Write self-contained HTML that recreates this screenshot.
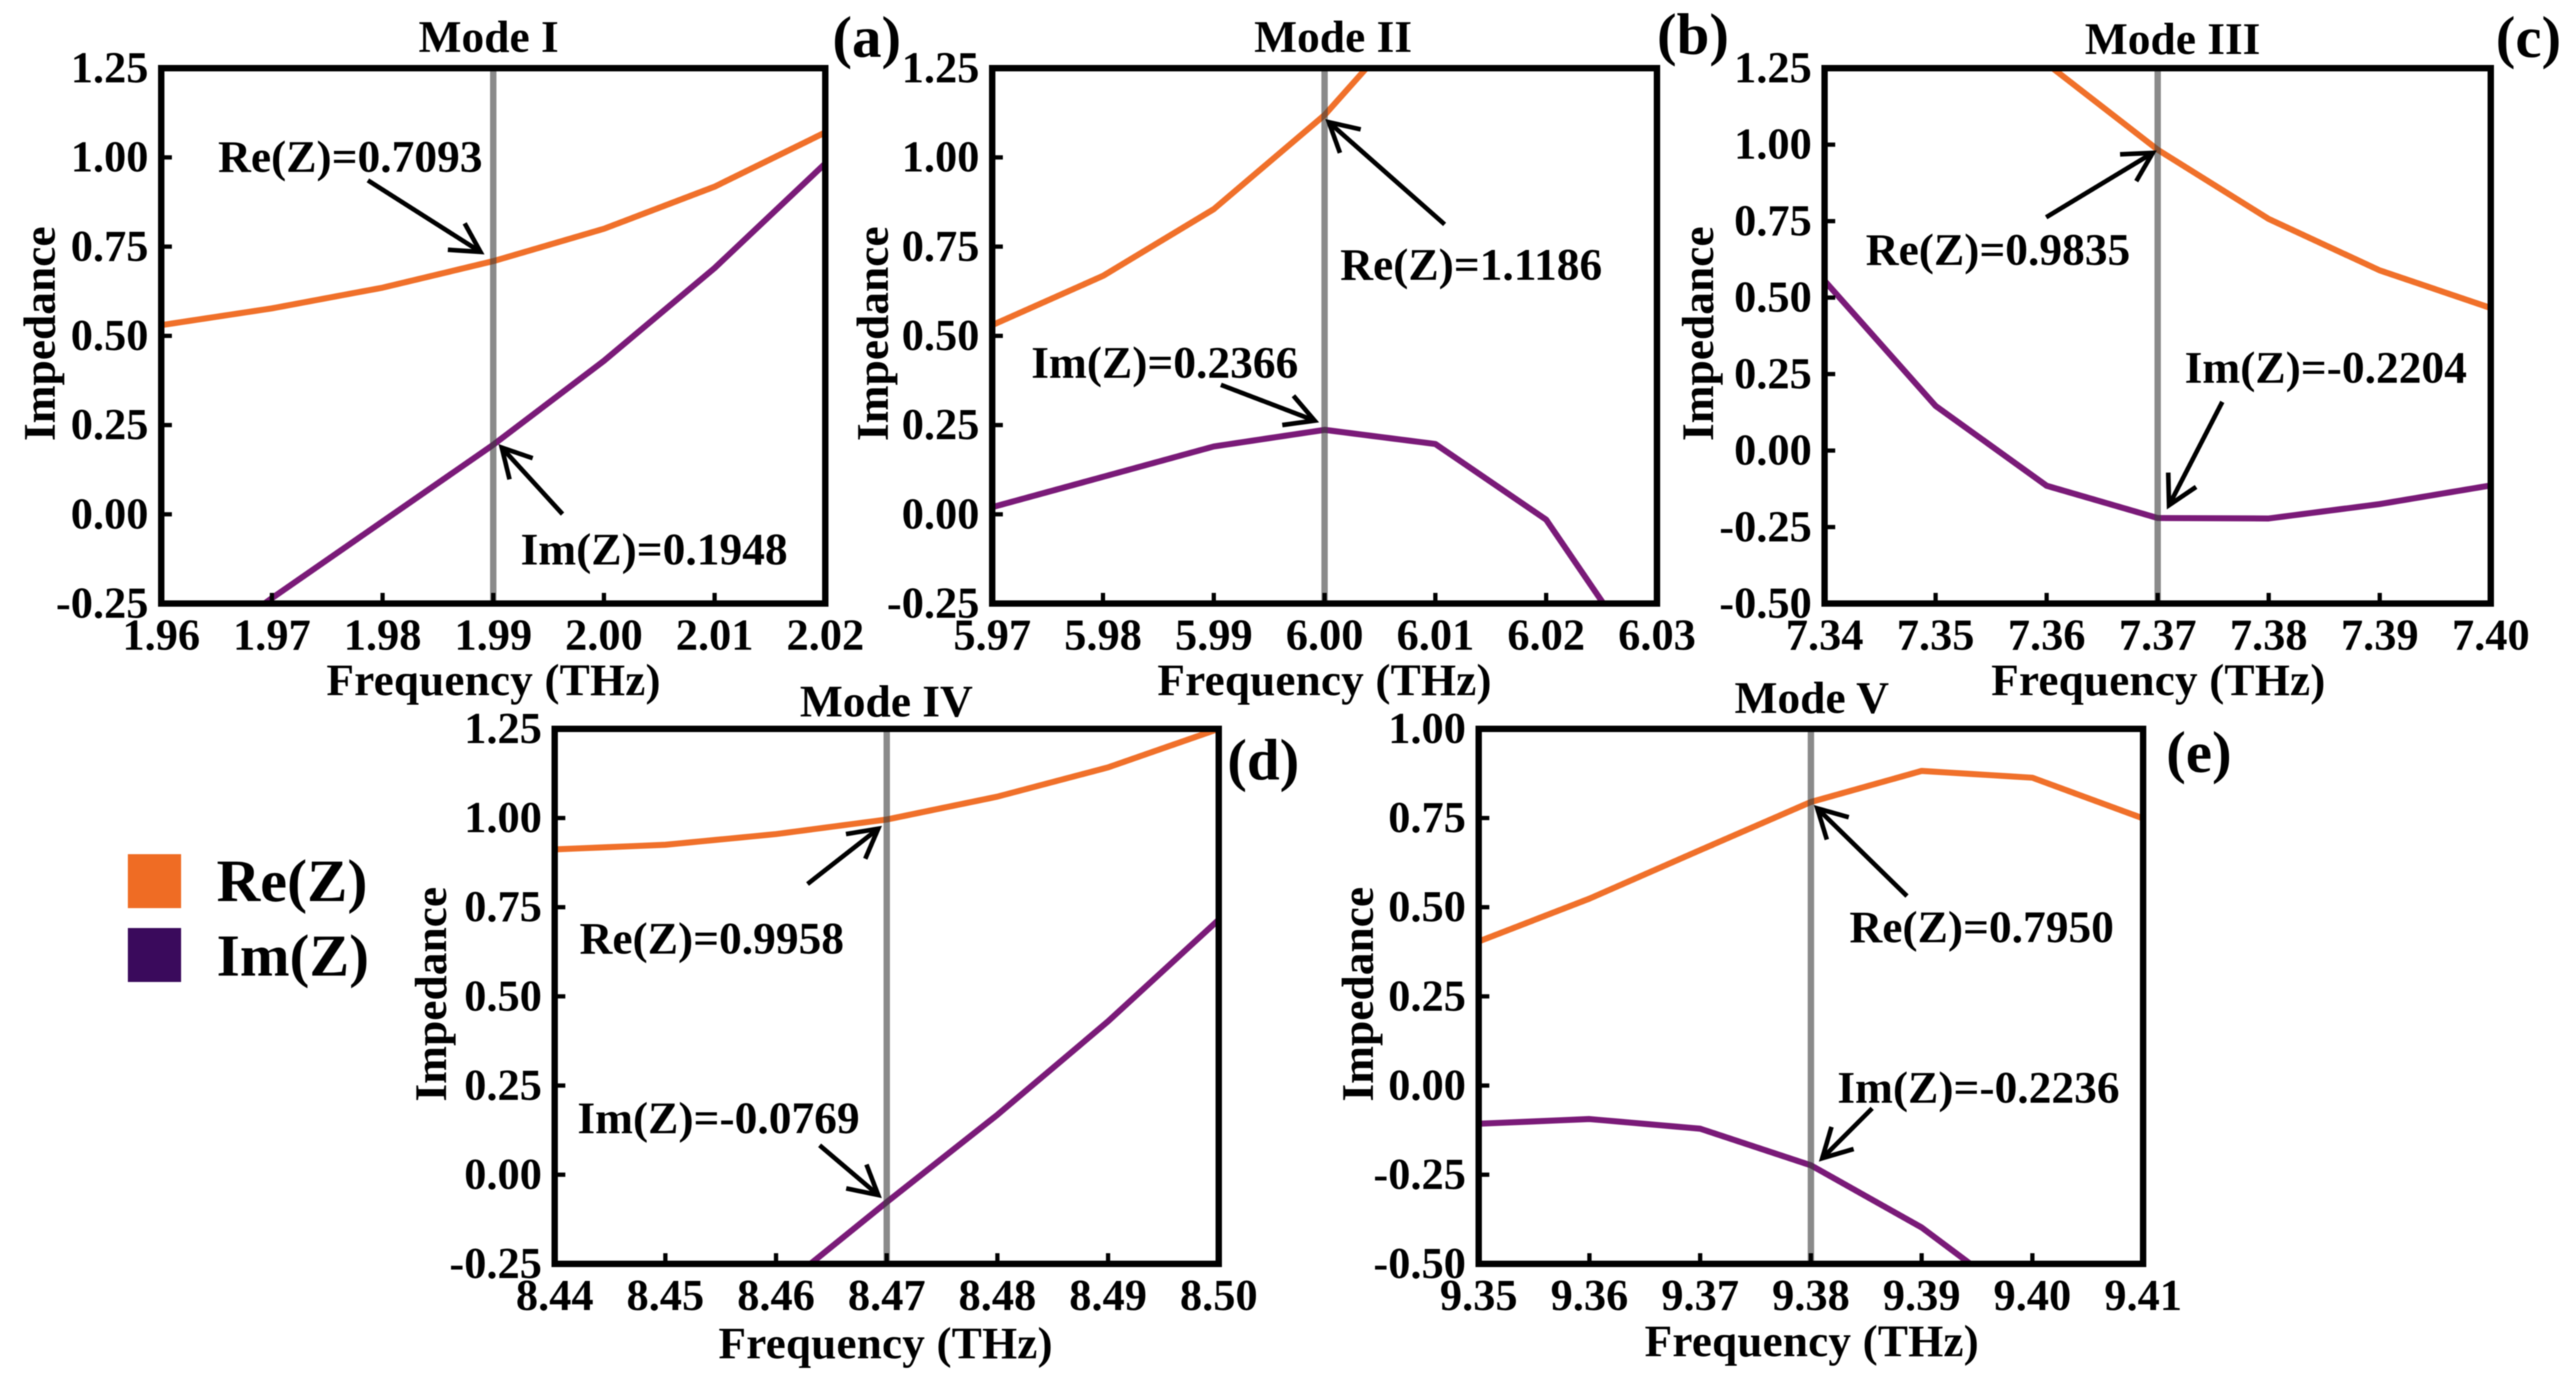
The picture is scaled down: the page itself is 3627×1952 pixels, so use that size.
<!DOCTYPE html>
<html lang="en">
<head>
<meta charset="utf-8">
<title>Impedance of Modes I-V</title>
<style>
html,body{margin:0;padding:0;background:#fff;width:3627px;height:1952px;overflow:hidden;}
svg{display:block;}
#chart{filter:blur(0.7px);}
text{font-family:"Liberation Serif",serif;font-weight:bold;fill:#000;}
</style>
</head>
<body>
<svg xmlns="http://www.w3.org/2000/svg" width="3627" height="1952" viewBox="0 0 3627 1952" overflow="hidden">
 <g id="chart">
  <rect width="3627" height="1952" fill="#ffffff"/>
  <rect x="180" y="1203" width="75" height="76" fill="#EF6C24"/>
  <text x="305" y="1269" font-size="85">Re(Z)</text>
  <rect x="180" y="1307" width="75" height="76" fill="#3A0A5C"/>
  <text x="305" y="1374" font-size="84">Im(Z)</text>
 </g>
</svg>
<script>
// ---- Data (null = far outside the visible axis range) ----
const modeIFreq = ['1.96','1.97','1.98','1.99','2.00','2.01','2.02'];
const modeIRe = [0.53,0.577,0.635,0.7093,0.80,0.918,1.07];
const modeIIm = [-0.46,-0.235,-0.02,0.1948,0.43,0.69,0.983];
const modeIYTicks = ['-0.25','0.00','0.25','0.50','0.75','1.00','1.25'];

const modeIIFreq = ['5.97','5.98','5.99','6.00','6.01','6.02','6.03'];
const modeIIRe = [0.53,0.668,0.855,1.1186,1.467,null,null];
const modeIIIm = [0.02,0.105,0.19,0.2366,0.197,-0.015,-0.47];
const modeIIYTicks = ['-0.25','0.00','0.25','0.50','0.75','1.00','1.25'];

const modeIIIFreq = ['7.34','7.35','7.36','7.37','7.38','7.39','7.40'];
const modeIIIRe = [null,null,1.265,0.9835,0.757,0.589,0.466];
const modeIIIIm = [0.555,0.146,-0.115,-0.2204,-0.222,-0.175,-0.114];
const modeIIIYTicks = ['-0.50','-0.25','0.00','0.25','0.50','0.75','1.00','1.25'];

const modeIVFreq = ['8.44','8.45','8.46','8.47','8.48','8.49','8.50'];
const modeIVRe = [0.912,0.925,0.955,0.9958,1.06,1.142,1.25];
const modeIVIm = [null,null,-0.328,-0.0769,0.168,0.43,0.715];
const modeIVYTicks = ['-0.25','0.00','0.25','0.50','0.75','1.00','1.25'];

const modeVFreq = ['9.35','9.36','9.37','9.38','9.39','9.40','9.41'];
const modeVRe = [0.404,0.524,0.66,0.795,0.882,0.863,0.749];
const modeVIm = [-0.107,-0.094,-0.121,-0.2236,-0.398,-0.63,null];
const modeVYTicks = ['-0.50','-0.25','0.00','0.25','0.50','0.75','1.00'];

// ---- Rendering ----
const NS = 'http://www.w3.org/2000/svg';
const svg = document.getElementById('chart');
function make(tag, parent, attrs) {
  const e = document.createElementNS(NS, tag);
  for (const k in attrs) e.setAttribute(k, attrs[k]);
  parent.appendChild(e);
  return e;
}
function arrowHead(tip, tail, len, spread) {
  const a = Math.atan2(tail[1]-tip[1], tail[0]-tip[0]);
  const p1 = [tip[0]+len*Math.cos(a+spread), tip[1]+len*Math.sin(a+spread)];
  const p2 = [tip[0]+len*Math.cos(a-spread), tip[1]+len*Math.sin(a-spread)];
  return `M${p1[0]} ${p1[1]}L${tip[0]} ${tip[1]}L${p2[0]} ${p2[1]}`;
}
function drawPanel(p) {
  const g = make('g', svg, {});
  
  

  const yVals = p.yTicks.map(Number);
  const xVals = p.freq.map(Number);
  const yMin = yVals[0], yMax = yVals[yVals.length-1];
  const xMin = xVals[0], xMax = xVals[xVals.length-1];
  const sx = v => p.L + (v-xMin)/(xMax-xMin)*(p.R-p.L);
  const sy = v => p.B - (v-yMin)/(yMax-yMin)*(p.B-p.T);

  const clip = make('clipPath', g, {id:'clip-'+p.key});
  make('rect', clip, {x:p.L, y:p.T, width:p.R-p.L, height:p.B-p.T});

  const series = [
    {vals:p.re, color:'#F0702A', name:'re-line'},
    {vals:p.im, color:'#7A1A78', name:'im-line'}
  ];
  series.forEach(s => {
    const pts = s.vals.map((v,i)=>v===null?null:[sx(xVals[i]),sy(v)]).filter(q=>q);
    const d = pts.map((q,i)=>(i?'L':'M')+q[0]+' '+q[1]).join('');
    const path = make('path', g, {d:d, fill:'none', stroke:s.color, 'stroke-width':8.5, 'stroke-linejoin':'round', 'clip-path':'url(#clip-'+p.key+')'});
    
    
  });

  const mx = sx(xVals[p.markIndex]);
  const marker = make('line', g, {x1:mx, x2:mx, y1:p.T, y2:p.B, stroke:'rgba(60,60,60,0.6)', 'stroke-width':9});
  
  

  const frame = make('rect', g, {x:p.L, y:p.T, width:p.R-p.L, height:p.B-p.T, fill:'none', stroke:'#000', 'stroke-width':9});
  
  

  p.freq.forEach((t,i) => {
    const x = sx(xVals[i]);
    const tick = make('line', g, {x1:x, x2:x, y1:p.B, y2:p.B-15, stroke:'#000', 'stroke-width':6});
    
    
    const lab = make('text', g, {x:x, y:p.B+65, 'font-size':62.5, 'text-anchor':'middle'});
    
    
    lab.textContent = t;
  });
  p.yTicks.forEach((t,i) => {
    const y = sy(yVals[i]);
    const tick = make('line', g, {x1:p.L, x2:p.L+15, y1:y, y2:y, stroke:'#000', 'stroke-width':6});
    
    
    const lab = make('text', g, {x:p.L-18, y:y+20, 'font-size':62.5, 'text-anchor':'end'});
    
    
    lab.textContent = t;
  });

  const title = make('text', g, {x:p.titleX, y:p.titleY, 'font-size':64, 'text-anchor':'middle'});
  
  
  title.textContent = p.title;

  const xt = make('text', g, {x:p.xTitleX, y:p.xTitleY, 'font-size':63.5, 'text-anchor':'middle', 'letter-spacing':0.3});
  
  
  xt.textContent = 'Frequency (THz)';

  const yc = (p.T+p.B)/2 - 3;
  const yt = make('text', g, {x:0, y:0, 'font-size':64, 'text-anchor':'middle', transform:`translate(${p.yTitleX} ${yc}) rotate(-90)`});
  
  
  yt.textContent = 'Impedance';

  const tag = make('text', g, {x:p.tagX, y:p.tagY, 'font-size':83});
  
  
  tag.textContent = p.tag;

  [{label:'Re(Z)=', vals:p.re, a:p.reNote, name:'re'},
   {label:'Im(Z)=', vals:p.im, a:p.imNote, name:'im'}].forEach(n => {
    const v = n.vals[p.markIndex];
    const note = make('text', g, {x:n.a.textX, y:n.a.textY, 'font-size':64});
    
    
    note.textContent = n.label + v.toFixed(4);
    const tip = [mx + n.a.tipDx, sy(v) + n.a.tipDy];
    const tail = [n.a.tailX, n.a.tailY];
    const shaft = make('line', g, {x1:tail[0], y1:tail[1], x2:tip[0], y2:tip[1], stroke:'#000', 'stroke-width':6.5});
    
    
    const head = make('path', g, {d:arrowHead(tip, tail, 46, 0.5), fill:'none', stroke:'#000', 'stroke-width':6.5, 'stroke-linejoin':'miter'});
    
    
  });
}

drawPanel({key:'mode-1', title:'Mode I', tag:'(a)', freq:modeIFreq, re:modeIRe, im:modeIIm, yTicks:modeIYTicks, markIndex:3,
  L:227, R:1162, T:96, B:850, titleX:688, titleY:73, xTitleX:695, xTitleY:979, yTitleX:77, tagX:1172, tagY:80,
  reNote:{textX:307, textY:242, tailX:518, tailY:254, tipDx:-18, tipDy:-13},
  imNote:{textX:733, textY:795, tailX:792, tailY:724, tipDx:12, tipDy:4}});

drawPanel({key:'mode-2', title:'Mode II', tag:'(b)', freq:modeIIFreq, re:modeIIRe, im:modeIIIm, yTicks:modeIIYTicks, markIndex:3,
  L:1397, R:2333, T:96, B:850, titleX:1877, titleY:73, xTitleX:1865, xTitleY:979, yTitleX:1250, tagX:2333, tagY:76,
  reNote:{textX:1887, textY:394, tailX:2034, tailY:316, tipDx:6, tipDy:10},
  imNote:{textX:1452, textY:532, tailX:1719, tailY:542, tipDx:-14, tipDy:-13}});

drawPanel({key:'mode-3', title:'Mode III', tag:'(c)', freq:modeIIIFreq, re:modeIIIRe, im:modeIIIIm, yTicks:modeIIIYTicks, markIndex:3,
  L:2569, R:3507, T:96, B:850, titleX:3059, titleY:76, xTitleX:3039, xTitleY:979, yTitleX:2412, tagX:3514, tagY:80,
  reNote:{textX:2627, textY:373, tailX:2881, tailY:306, tipDx:-7, tipDy:4.5},
  imNote:{textX:3076, textY:539, tailX:3129, tailY:566, tipDx:16, tipDy:-18}});

drawPanel({key:'mode-4', title:'Mode IV', tag:'(d)', freq:modeIVFreq, re:modeIVRe, im:modeIVIm, yTicks:modeIVYTicks, markIndex:3,
  L:781, R:1716, T:1026.5, B:1780, titleX:1248, titleY:1009, xTitleX:1247, xTitleY:1913, yTitleX:628, tagX:1728, tagY:1098,
  reNote:{textX:816, textY:1343, tailX:1137, tailY:1245, tipDx:-12, tipDy:13},
  imNote:{textX:813, textY:1596, tailX:1154, tailY:1613, tipDx:-12, tipDy:-10}});

drawPanel({key:'mode-5', title:'Mode V', tag:'(e)', freq:modeVFreq, re:modeVRe, im:modeVIm, yTicks:modeVYTicks, markIndex:3,
  L:2082, R:3017.5, T:1026.5, B:1780, titleX:2551, titleY:1004, xTitleX:2551, xTitleY:1910, yTitleX:1933, tagX:3050, tagY:1087,
  reNote:{textX:2604, textY:1327, tailX:2685, tailY:1262, tipDx:9, tipDy:9},
  imNote:{textX:2587, textY:1553, tailX:2636, tailY:1561, tipDx:16, tipDy:-10}});
</script>
</body>
</html>
